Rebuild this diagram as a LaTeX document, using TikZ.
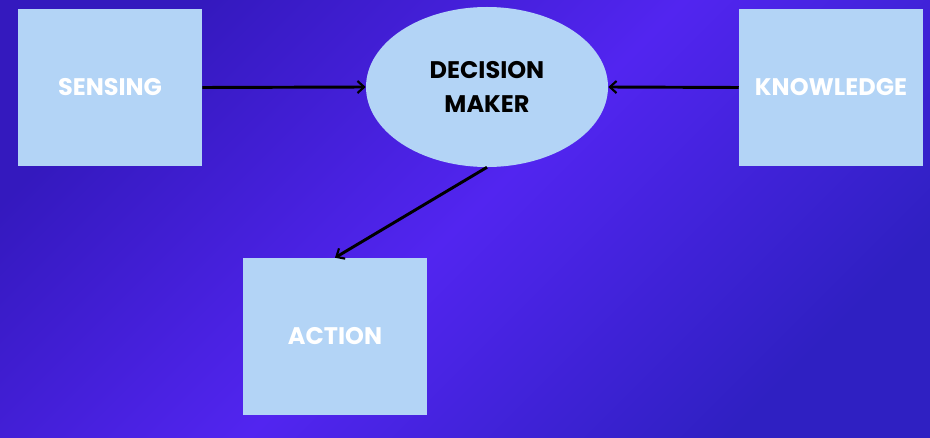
\documentclass[tikz,border=0pt]{standalone}
\usepackage{fontspec}
\setmainfont{Poppins}[BoldFont={* Bold}]
\usetikzlibrary{arrows.meta,shapes.geometric}
\definecolor{boxc}{HTML}{B3D4F6}
\definecolor{bgdark}{HTML}{3419BE}
\definecolor{bgmid}{HTML}{5225F0}
\definecolor{bgdark2}{HTML}{2F20C2}
\tikzset{
  box/.style={fill=boxc, draw=none, minimum width=184*0.75pt, minimum height=157*0.75pt, inner sep=0pt,
    font=\bfseries\fontsize{18}{22}\selectfont, text=white},
  link/.style={line width=2.2pt, draw=black, -{Straight Barb[length=5pt,width=9pt,line width=1.6pt]}}
}
\begin{document}
\begin{tikzpicture}[x=0.75pt,y=-0.75pt]
\useasboundingbox (0,0) rectangle (930,438);
\shade[top color=bgdark, bottom color=bgdark2, middle color=bgmid, shading angle=45] (0,0) rectangle (930,438);
\node[box] (sensing) at (110,87.5) {SENSING};
\node[box] (knowledge) at (831,87.5) {KNOWLEDGE};
\node[box] (action) at (335,336.5) {ACTION};
\node[ellipse, fill=boxc, minimum width=242*0.75pt, minimum height=160*0.75pt, inner sep=0pt,
  font=\bfseries\fontsize{18}{25}\selectfont, text=black, align=center] (dm) at (487,87) {DECISION\\MAKER};
\draw[link] (sensing.east) -- (dm.west);
\draw[link] (knowledge.west) -- (dm.east);
\draw[link] (dm.south) -- (action.north);
\end{tikzpicture}
\end{document}
